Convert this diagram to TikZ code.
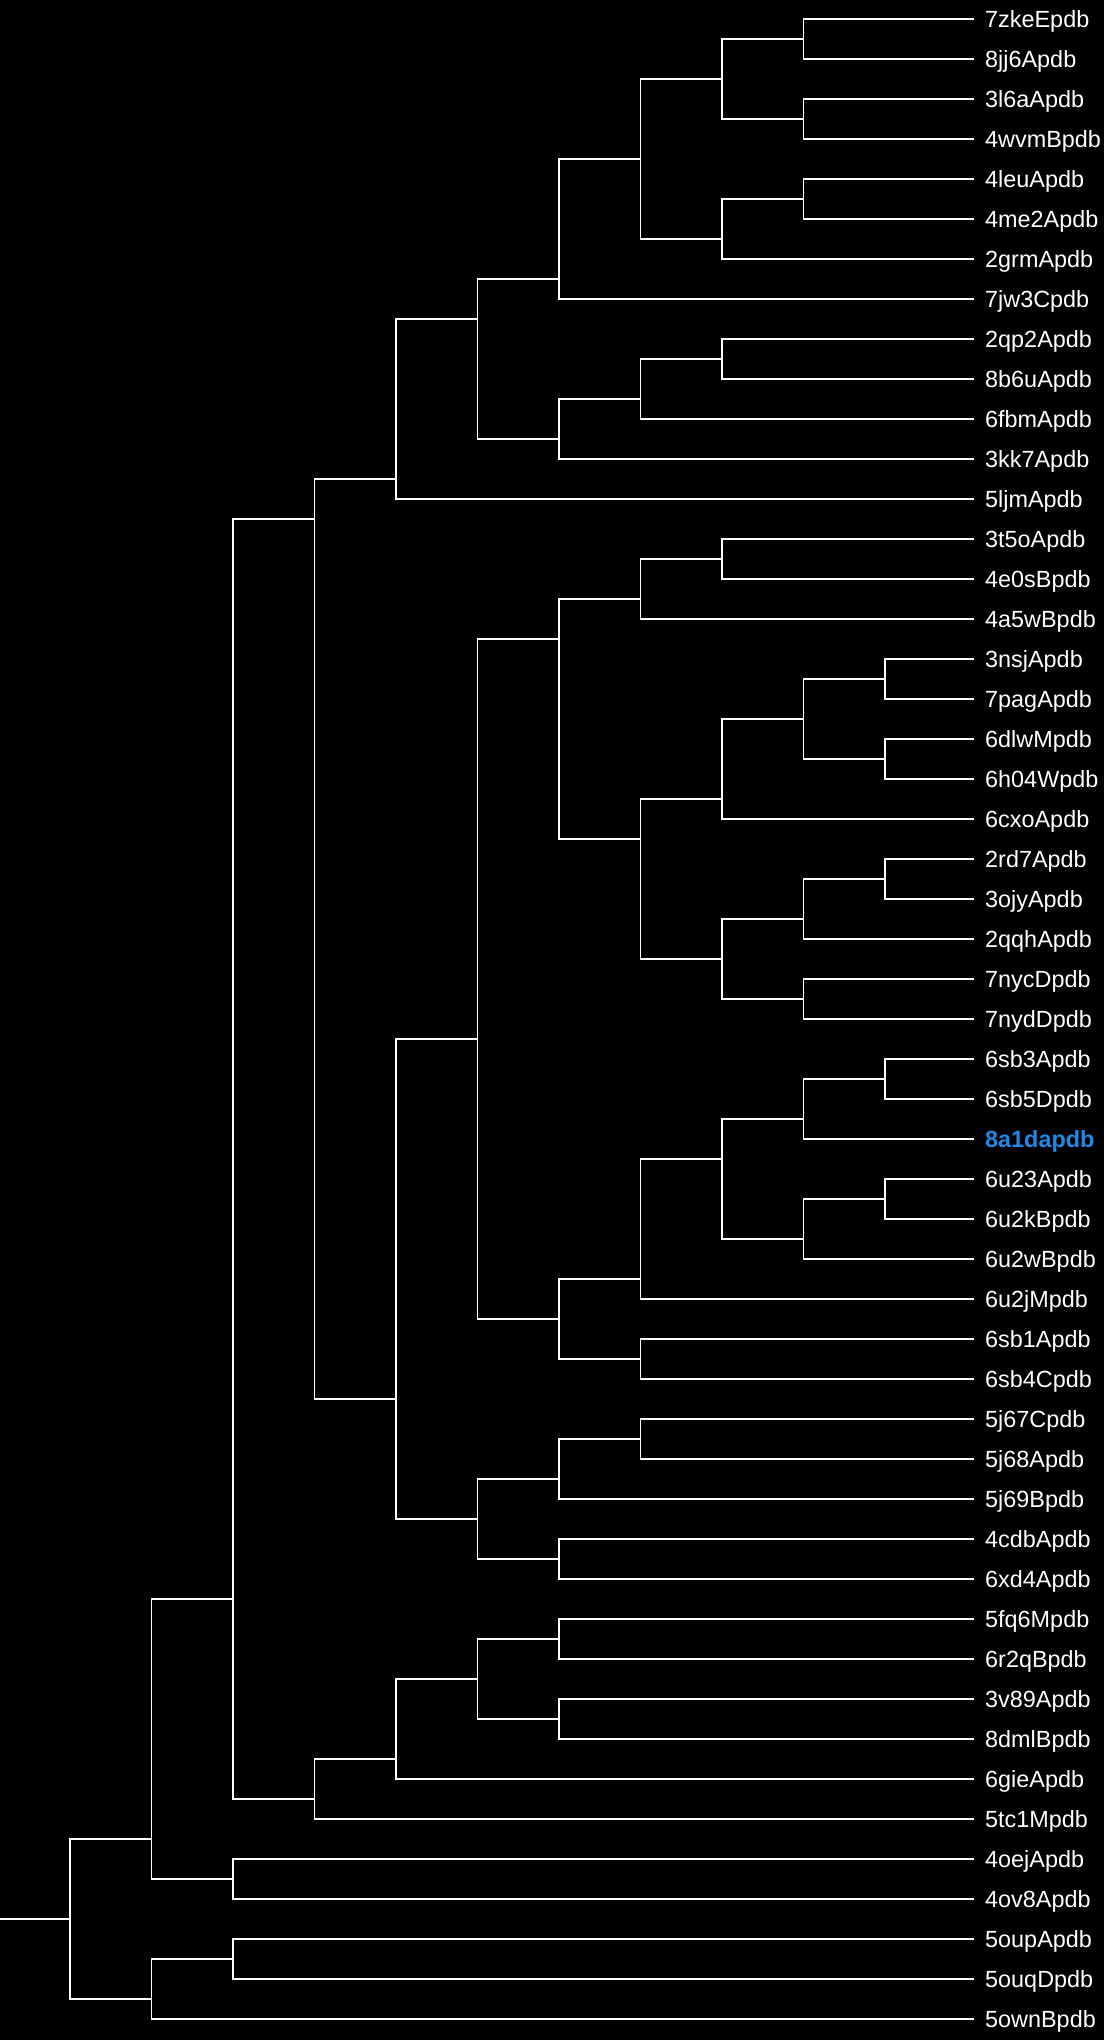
\documentclass[tikz,border=0pt]{standalone}
\usepackage{fontspec}
\newfontfamily\labfont{Liberation Sans}
\definecolor{hl}{RGB}{30,136,229}
\begin{document}
\begin{tikzpicture}[x=1pt,y=-40pt,
  br/.style={draw=white, line width=1.7pt},
  lab/.style={anchor=base west, inner sep=0pt, text=white, font=\labfont\fontsize{23.4}{26}\selectfont},
  labhl/.style={lab, text=hl, font=\labfont\bfseries\fontsize{23.4}{26}\selectfont}]
\path[use as bounding box, fill=black] (0,0.5175) rectangle (1104,51.5175);
% leaves
\foreach \i/\t in {1/7zkeEpdb,2/8jj6Apdb,3/3l6aApdb,4/4wvmBpdb,5/4leuApdb,6/4me2Apdb,7/2grmApdb,8/7jw3Cpdb,9/2qp2Apdb,10/8b6uApdb,11/6fbmApdb,12/3kk7Apdb,13/5ljmApdb,14/3t5oApdb,15/4e0sBpdb,16/4a5wBpdb,17/3nsjApdb,18/7pagApdb,19/6dlwMpdb,20/6h04Wpdb,21/6cxoApdb,22/2rd7Apdb,23/3ojyApdb,24/2qqhApdb,25/7nycDpdb,26/7nydDpdb,27/6sb3Apdb,28/6sb5Dpdb,30/6u23Apdb,31/6u2kBpdb,32/6u2wBpdb,33/6u2jMpdb,34/6sb1Apdb,35/6sb4Cpdb,36/5j67Cpdb,37/5j68Apdb,38/5j69Bpdb,39/4cdbApdb,40/6xd4Apdb,41/5fq6Mpdb,42/6r2qBpdb,43/3v89Apdb,44/8dmlBpdb,45/6gieApdb,46/5tc1Mpdb,47/4oejApdb,48/4ov8Apdb,49/5oupApdb,50/5ouqDpdb,51/5ownBpdb}{
  \coordinate (l\i) at (974,\i);
  \node[lab] (t\i) at ([yshift=-8.5pt]985,\i) {\t};
}
\coordinate (l29) at (974,29);
\node[labhl] (t29) at ([yshift=-8.5pt]985,29) {8a1dapdb};
% internal nodes
\coordinate (n1) at (803.5,1.5);
\coordinate (n2) at (803.5,3.5);
\coordinate (n3) at (722,2.5);
\coordinate (n4) at (803.5,5.5);
\coordinate (n5) at (722,6.5);
\coordinate (n6) at (640.5,4.5);
\coordinate (n7) at (559,7.5);
\coordinate (n8) at (722,9.5);
\coordinate (n9) at (640.5,10.5);
\coordinate (n10) at (559,11.5);
\coordinate (n11) at (477.5,8.5);
\coordinate (n12) at (396,12.5);
\coordinate (n13) at (722,14.5);
\coordinate (n14) at (640.5,15.5);
\coordinate (n15) at (885,17.5);
\coordinate (n16) at (885,19.5);
\coordinate (n17) at (803.5,18.5);
\coordinate (n18) at (722,20.5);
\coordinate (n19) at (885,22.5);
\coordinate (n20) at (803.5,23.5);
\coordinate (n21) at (803.5,25.5);
\coordinate (n22) at (722,24.5);
\coordinate (n23) at (640.5,21.5);
\coordinate (n24) at (559,16.5);
\coordinate (n25) at (885,27.5);
\coordinate (n26) at (803.5,28.5);
\coordinate (n27) at (885,30.5);
\coordinate (n28) at (803.5,31.5);
\coordinate (n29) at (722,29.5);
\coordinate (n30) at (640.5,32.5);
\coordinate (n31) at (640.5,34.5);
\coordinate (n32) at (559,33.5);
\coordinate (n33) at (477.5,26.5);
\coordinate (n34) at (640.5,36.5);
\coordinate (n35) at (559,37.5);
\coordinate (n36) at (559,39.5);
\coordinate (n37) at (477.5,38.5);
\coordinate (n38) at (396,35.5);
\coordinate (n39) at (314.5,13.5);
\coordinate (n40) at (559,41.5);
\coordinate (n41) at (559,43.5);
\coordinate (n42) at (477.5,42.5);
\coordinate (n43) at (396,44.5);
\coordinate (n44) at (314.5,45.5);
\coordinate (n45) at (233,40.5);
\coordinate (n46) at (233,47.5);
\coordinate (n47) at (151.5,46.5);
\coordinate (n48) at (233,49.5);
\coordinate (n49) at (151.5,50.5);
\coordinate (n50) at (70,48.5);
\coordinate (r0) at (0,48.5);
% brackets
\draw[br] (l1) -| (n1) |- (l2);
\draw[br] (l3) -| (n2) |- (l4);
\draw[br] (n1) -| (n3) |- (n2);
\draw[br] (l5) -| (n4) |- (l6);
\draw[br] (n4) -| (n5) |- (l7);
\draw[br] (n3) -| (n6) |- (n5);
\draw[br] (n6) -| (n7) |- (l8);
\draw[br] (l9) -| (n8) |- (l10);
\draw[br] (n8) -| (n9) |- (l11);
\draw[br] (n9) -| (n10) |- (l12);
\draw[br] (n7) -| (n11) |- (n10);
\draw[br] (n11) -| (n12) |- (l13);
\draw[br] (l14) -| (n13) |- (l15);
\draw[br] (n13) -| (n14) |- (l16);
\draw[br] (l17) -| (n15) |- (l18);
\draw[br] (l19) -| (n16) |- (l20);
\draw[br] (n15) -| (n17) |- (n16);
\draw[br] (n17) -| (n18) |- (l21);
\draw[br] (l22) -| (n19) |- (l23);
\draw[br] (n19) -| (n20) |- (l24);
\draw[br] (l25) -| (n21) |- (l26);
\draw[br] (n20) -| (n22) |- (n21);
\draw[br] (n18) -| (n23) |- (n22);
\draw[br] (n14) -| (n24) |- (n23);
\draw[br] (l27) -| (n25) |- (l28);
\draw[br] (n25) -| (n26) |- (l29);
\draw[br] (l30) -| (n27) |- (l31);
\draw[br] (n27) -| (n28) |- (l32);
\draw[br] (n26) -| (n29) |- (n28);
\draw[br] (n29) -| (n30) |- (l33);
\draw[br] (l34) -| (n31) |- (l35);
\draw[br] (n30) -| (n32) |- (n31);
\draw[br] (n24) -| (n33) |- (n32);
\draw[br] (l36) -| (n34) |- (l37);
\draw[br] (n34) -| (n35) |- (l38);
\draw[br] (l39) -| (n36) |- (l40);
\draw[br] (n35) -| (n37) |- (n36);
\draw[br] (n33) -| (n38) |- (n37);
\draw[br] (n12) -| (n39) |- (n38);
\draw[br] (l41) -| (n40) |- (l42);
\draw[br] (l43) -| (n41) |- (l44);
\draw[br] (n40) -| (n42) |- (n41);
\draw[br] (n42) -| (n43) |- (l45);
\draw[br] (n43) -| (n44) |- (l46);
\draw[br] (n39) -| (n45) |- (n44);
\draw[br] (l47) -| (n46) |- (l48);
\draw[br] (n45) -| (n47) |- (n46);
\draw[br] (l49) -| (n48) |- (l50);
\draw[br] (n48) -| (n49) |- (l51);
\draw[br] (n47) -| (n50) |- (n49);
\draw[br] (r0) -- (n50);
\end{tikzpicture}
\end{document}
